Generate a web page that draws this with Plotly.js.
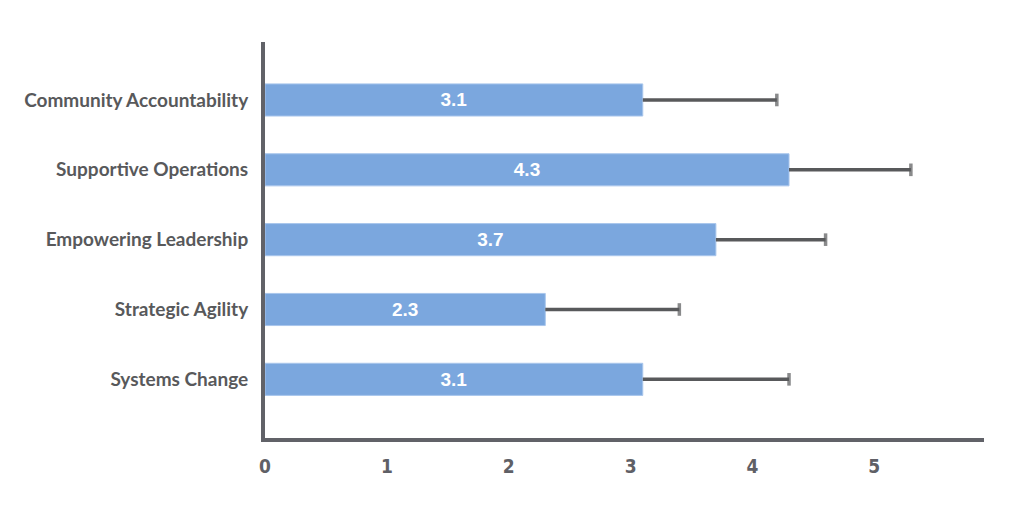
<!DOCTYPE html>
<html>
<head>
<meta charset="utf-8">
<script src="https://cdn.plot.ly/plotly-3.0.1.min.js"></script>
<style>html,body{margin:0;padding:0;background:#fff;}#chart{width:1012px;height:506px;}</style>
</head>
<body>
<div id="chart"></div>
<script>
// Data (top to bottom)
const categories = ["Community Accountability", "Supportive Operations", "Empowering Leadership", "Strategic Agility", "Systems Change"];
const scores = [3.1, 4.3, 3.7, 2.3, 3.1];
const errorPlus = [1.1, 1.0, 0.9, 1.1, 1.2];
const xTickValues = [0, 1, 2, 3, 4, 5];

// Build one-sided error whiskers from the data
const whiskerX = [], whiskerY = [], capSizes = [];
categories.forEach((c, i) => {
  whiskerX.push(scores[i], scores[i] + errorPlus[i], null);
  whiskerY.push(c, c, null);
  capSizes.push(0, 9, 0);
});

const barTrace = {
  type: 'bar',
  orientation: 'h',
  x: scores,
  y: categories,
  marker: {color: '#7ba7de', line: {color: '#a9c6ec', width: 1}},
  width: 0.46,
  text: scores.map(v => v.toFixed(1)),
  textposition: 'inside',
  insidetextanchor: 'middle',
  textfont: {family: 'Liberation Sans, Arial, sans-serif', size: 19, color: '#ffffff', weight: 700},
  hoverinfo: 'x+y',
  cliponaxis: false
};

const whiskerTrace = {
  type: 'scatter',
  mode: 'lines+markers',
  x: whiskerX,
  y: whiskerY,
  line: {color: '#58595b', width: 3.5},
  marker: {symbol: 'line-ns', size: capSizes, line: {color: '#58595b', width: 3.5}, color: '#58595b'},
  connectgaps: false,
  hoverinfo: 'skip',
  cliponaxis: false
};

const layout = {
  width: 1012,
  height: 506,
  margin: {l: 265, r: 28, t: 42, b: 68},
  paper_bgcolor: '#ffffff',
  plot_bgcolor: '#ffffff',
  showlegend: false,
  bargap: 0.5,
  xaxis: {
    range: [0, 5.9],
    tickvals: xTickValues,
    ticktext: xTickValues.map(String),
    showgrid: false,
    zeroline: false,
    showline: true,
    linecolor: '#616268',
    linewidth: 4,
    ticks: '',
    ticklabelstandoff: 8,
    tickfont: {family: 'Liberation Sans Narrow, DejaVu Sans Condensed, sans-serif', size: 19, color: '#5f6066', weight: 700},
    fixedrange: true
  },
  yaxis: {
    type: 'category',
    categoryorder: 'array',
    categoryarray: categories,
    range: [4.84, -0.83],
    showgrid: false,
    zeroline: false,
    showline: true,
    linecolor: '#616268',
    linewidth: 4,
    ticks: '',
    ticklabelstandoff: 9,
    tickfont: {family: 'Lato, Open Sans, sans-serif', size: 19, color: '#58595b', weight: 700},
    fixedrange: true
  }
};

Plotly.newPlot('chart', [barTrace, whiskerTrace], layout, {displayModeBar: false, staticPlot: true});
</script>
</body>
</html>
